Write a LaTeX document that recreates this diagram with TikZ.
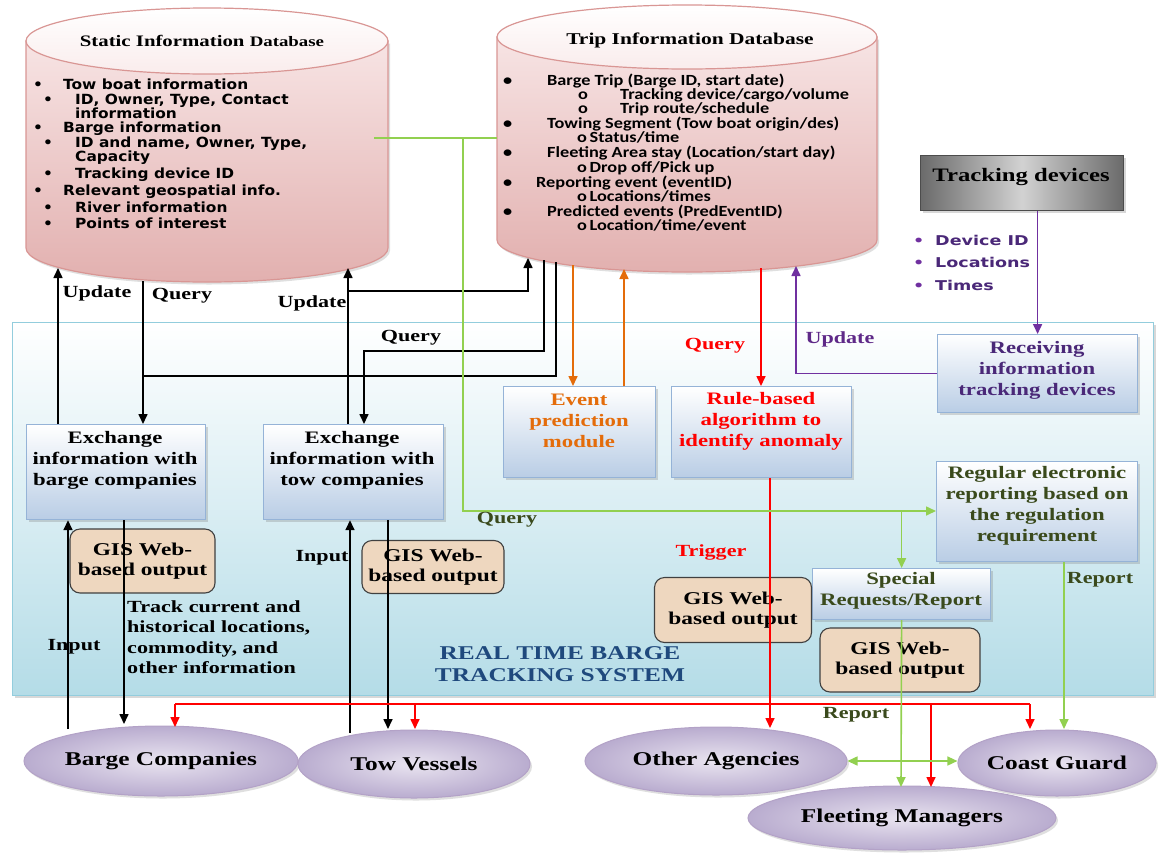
\documentclass[tikz,border=0pt]{standalone}
\usepackage{fontspec}
\setmainfont{Liberation Serif}[FakeStretch=1.3]
\newfontfamily\stfont{DejaVu Sans}[FakeStretch=1.1]
\newfontfamily\tdfont{DejaVu Sans}[FakeStretch=1.3]
\newfontfamily\trfont{Carlito}[FakeStretch=1.18]
\usetikzlibrary{arrows.meta,shapes.geometric,shadows}
\definecolor{dbtop}{HTML}{F7E4E4}
\definecolor{dbbot}{HTML}{E2B0AF}
\definecolor{dbline}{HTML}{D99694}
\definecolor{bxbot}{HTML}{B9CDE5}
\definecolor{bxline}{HTML}{95B3D7}
\definecolor{sysline}{HTML}{93CDDD}
\definecolor{sysbot}{HTML}{B4DCE7}
\definecolor{gisfill}{HTML}{EED7BF}
\definecolor{elin}{HTML}{E9E4F0}
\definecolor{elout}{HTML}{B9ACCF}
\definecolor{elline}{HTML}{B3A2C7}
\definecolor{cgreen}{HTML}{92D050}
\definecolor{corange}{HTML}{E46C0A}
\definecolor{cred}{HTML}{FF0000}
\definecolor{cpurple}{HTML}{7030A0}
\definecolor{tpurple}{HTML}{4A2878}
\definecolor{tolive}{HTML}{3A4A1C}
\definecolor{tblue}{HTML}{1F497D}
\definecolor{tdside}{HTML}{6A6A6A}
\definecolor{tdmid}{HTML}{D2D2D2}
\begin{document}
\begin{tikzpicture}[x=1pt,y=-1pt,
  every node/.style={inner sep=0pt},
  tip/.style={-{Triangle[length=10pt,width=9pt]}},
  ln/.style={line width=1.6pt},
  karr/.style={ln,tip,draw=black},
  kline/.style={ln,draw=black},
  oarr/.style={ln,tip,draw=corange},
  rarr/.style={ln,tip,draw=cred},
  rline/.style={ln,draw=cred},
  garr/.style={ln,tip,draw=cgreen},
  gline/.style={ln,draw=cgreen},
  gdarr/.style={ln,{Triangle[length=10pt,width=9pt]}-{Triangle[length=10pt,width=9pt]},draw=cgreen},
  parr/.style={ln,tip,draw=cpurple},
  bx/.style={rectangle,anchor=north west,draw=bxline,line width=1.2pt,top color=white,bottom color=bxbot,
    drop shadow={shadow xshift=2.5pt,shadow yshift=-2.5pt,opacity=.3}},
  btxt/.style={align=center,font=\fontsize{17.5}{21}\selectfont\bfseries},
  gis/.style={rectangle,rounded corners=10pt,draw=black!75,line width=1.1pt,fill=gisfill,align=center,
    font=\fontsize{18}{20}\selectfont\bfseries},
  ell/.style={ellipse,draw=elline,line width=1pt,inner color=elin,outer color=elout,
    drop shadow={shadow xshift=2pt,shadow yshift=-2.5pt,opacity=.25},font=\fontsize{19.5}{22}\selectfont\bfseries},
  lbl/.style={font=\fontsize{17}{20}\selectfont\bfseries},
  st/.style={anchor=base west,font=\stfont\fontsize{14}{15}\selectfont\bfseries},
  tr/.style={anchor=base west,font=\trfont\fontsize{15.5}{16}\selectfont\bfseries},
  td/.style={anchor=base west,font=\tdfont\fontsize{13.5}{15}\selectfont\bfseries,text=tpurple},
]
\useasboundingbox (0,0) rectangle (1162,852);
\fill[white] (0,0) rectangle (1162,852);

% ---------- real time system frame ----------
\node[rectangle,anchor=north west,draw=sysline,line width=1.2pt,top color=white,bottom color=sysbot,
  minimum width=1141,minimum height=373,drop shadow={shadow xshift=2.5pt,shadow yshift=-2.5pt,opacity=.3}] (sys) at (12,322) {};
\node[align=center,text=tblue,font=\fontsize{19.5}{22}\selectfont\bfseries] (lsys) at (560,664) {REAL TIME BARGE\\TRACKING SYSTEM};

% ---------- static information database ----------
\path[draw=dbline,line width=1.2pt,top color=dbtop,bottom color=dbbot,drop shadow={shadow xshift=2pt,shadow yshift=-2.5pt,opacity=.25}]
  (26,41) -- (26,248) arc[start angle=180,end angle=360,x radius=181pt,y radius=34pt] -- (388,41) -- cycle;
\path[draw=dbline,line width=1.2pt,top color=white,bottom color=dbtop!70] (207,41) ellipse[x radius=181pt,y radius=33pt];
\node[font=\fontsize{16}{18}\selectfont\bfseries] (sdbt) at (202,41) {Static Information {\fontsize{14.5}{16}\selectfont Database}};
\node[st] (s1) at (33,89) {\makebox[30pt][l]{\textbullet}Tow boat information};
\node[st] (s2) at (43,104) {\makebox[32pt][l]{\textbullet}ID, Owner, Type, Contact};
\node[st] (s3) at (75,118) {information};
\node[st] (s4) at (33,132) {\makebox[30pt][l]{\textbullet}Barge information};
\node[st] (s5) at (43,147) {\makebox[32pt][l]{\textbullet}ID and name, Owner, Type,};
\node[st] (s6) at (75,161) {Capacity};
\node[st] (s7) at (43,178) {\makebox[32pt][l]{\textbullet}Tracking device ID};
\node[st] (s8) at (33,195) {\makebox[30pt][l]{\textbullet}Relevant geospatial info.};
\node[st] (s9) at (43,212) {\makebox[32pt][l]{\textbullet}River information};
\node[st] (s10) at (43,228) {\makebox[32pt][l]{\textbullet}Points of interest};

% ---------- trip information database ----------
\path[draw=dbline,line width=1.2pt,top color=dbtop,bottom color=dbbot,drop shadow={shadow xshift=2pt,shadow yshift=-2.5pt,opacity=.25}]
  (497,37) -- (497,240) arc[start angle=180,end angle=360,x radius=190pt,y radius=32pt] -- (877,37) -- cycle;
\path[draw=dbline,line width=1.2pt,top color=white,bottom color=dbtop!70] (687,37) ellipse[x radius=190pt,y radius=32pt];
\node[font=\fontsize{16.5}{18}\selectfont\bfseries] (tdbt) at (690,40) {Trip Information Database};
\node[tr] (t1) at (503,85) {\makebox[44pt][l]{\textbullet}Barge Trip (Barge ID, start date)};
\node[tr] (t2) at (578,99) {\makebox[42pt][l]{o}Tracking device/cargo/volume};
\node[tr] (t3) at (578,113) {\makebox[42pt][l]{o}Trip route/schedule};
\node[tr] (t4) at (503,128) {\makebox[44pt][l]{\textbullet}Towing Segment (Tow boat origin/des)};
\node[tr] (t5) at (577,142) {o\,Status/time};
\node[tr] (t6) at (503,157) {\makebox[44pt][l]{\textbullet}Fleeting Area stay (Location/start day)};
\node[tr] (t7) at (577,172) {o\,Drop off/Pick up};
\node[tr] (t8) at (503,187) {\makebox[33pt][l]{\textbullet}Reporting event (eventID)};
\node[tr] (t9) at (577,201) {o\,Locations/times};
\node[tr] (t10) at (503,216) {\makebox[44pt][l]{\textbullet}Predicted events (PredEventID)};
\node[tr] (t11) at (577,230) {o\,Location/time/event};

% ---------- tracking devices ----------
\node[rectangle,anchor=north west,draw=black!70,line width=1pt,left color=tdside,right color=tdside,middle color=tdmid,
  minimum width=203,minimum height=55,drop shadow={shadow xshift=2.5pt,shadow yshift=-2.5pt,opacity=.3}] (td) at (920,155) {};
\node[font=\fontsize{19}{21}\selectfont\bfseries] (tdt) at (1021,177) {Tracking devices};
\node[td] (d1) at (913,245) {\makebox[22pt][l]{\textcolor{cpurple}{\textbullet}}Device ID};
\node[td] (d2) at (913,267) {\makebox[22pt][l]{\textcolor{cpurple}{\textbullet}}Locations};
\node[td] (d3) at (913,290) {\makebox[22pt][l]{\textcolor{cpurple}{\textbullet}}Times};

% ---------- boxes ----------
\node[bx,minimum width=179,minimum height=95] (xb) at (26,424) {};
\node[btxt] (xbt) at (115,460) {Exchange\\information with\\barge companies};
\node[bx,minimum width=180,minimum height=95] (xt) at (263,424) {};
\node[btxt] (xtt) at (352,460) {Exchange\\information with\\tow companies};
\node[bx,minimum width=152,minimum height=91] (ev) at (503,386) {};
\node[btxt,text=corange] (evt) at (579,421) {Event\\prediction\\module};
\node[bx,minimum width=180,minimum height=91] (rb) at (671,386) {};
\node[btxt,text=cred] (rbt) at (761,421) {Rule-based\\algorithm to\\identify anomaly};
\node[bx,minimum width=200,minimum height=78] (rc) at (937,334) {};
\node[btxt,text=tpurple] (rct) at (1037,370) {Receiving\\information\\tracking devices};
\node[bx,minimum width=201,minimum height=100] (rg) at (936,461) {};
\node[btxt,text=tolive] (rgt) at (1037,506) {Regular electronic\\reporting based on\\the regulation\\requirement};
\node[bx,minimum width=178,minimum height=51] (sp) at (812,568) {};
\node[btxt,text=tolive] (spt) at (901,591) {Special\\Requests/Report};

% ---------- GIS outputs ----------
\node[gis,minimum width=145,minimum height=64] (g1) at (142.5,561) {GIS Web-\\based output};
\node[gis,minimum width=142,minimum height=53] (g2) at (433,567) {GIS Web-\\based output};
\node[gis,minimum width=157,minimum height=65] (g3) at (733,610) {GIS Web-\\based output};
\node[gis,minimum width=160,minimum height=64] (g4) at (900,660) {GIS Web-\\based output};

% ---------- external parties ----------
\node[ell,minimum width=274,minimum height=70] (bc) at (161,761) {Barge Companies};
\node[ell,minimum width=232,minimum height=68] (tv) at (414,764) {Tow Vessels};
\node[ell,minimum width=262,minimum height=68] (oa) at (716,761) {Other Agencies};
\node[ell,minimum width=194,minimum height=66] (cg) at (1057,763) {Coast Guard};
\node[ell,minimum width=308,minimum height=64] (fm) at (902,818) {Fleeting Managers};

% ---------- attachment points ----------
\coordinate (sU1) at (58,268);
\coordinate (sQ) at (143,281);
\coordinate (sU2) at (348,268);
\coordinate (tU) at (528,258);
\coordinate (tQ1) at (544,260);
\coordinate (tQ2) at (556,262);
\coordinate (tO1) at (573,265);
\coordinate (tO2) at (624,269);
\coordinate (tR) at (761,268);
\coordinate (tP) at (796,266);
\coordinate (sG) at (374,138);
\coordinate (tG) at (497,138);
\coordinate (gJ) at (463,138);
\coordinate (gQ) at (463,511);
\coordinate (j1) at (348,291);
\coordinate (jq1) at (143,376);
\coordinate (jq2) at (364,351);
\coordinate (rL) at (175,704);
\coordinate (rR) at (1030,704);
\coordinate (bcIn) at (68,729);
\coordinate (bcOut) at (124,724);
\coordinate (tvIn) at (350,733);
\coordinate (tvOut) at (388,729);
\coordinate (bcR) at (175,727);
\coordinate (tvR) at (415,729);
\coordinate (oaR) at (770,728);
\coordinate (cgR) at (1030,729);
\coordinate (cgG) at (1064,729);
\coordinate (fmR) at (931,787);
\coordinate (fmG) at (901,787);

% ---------- black connectors ----------
\draw[karr] (xb.north -| sU1) -- (sU1);
\draw[karr] (sQ) -- (xb.north -| sQ);
\draw[karr] (xt.north -| sU2) -- (sU2);
\draw[karr] (j1) -| (tU);
\draw[karr] (tQ1) |- (jq2) -- (xt.north -| jq2);
\draw[kline] (tQ2) |- (jq1);
\draw[karr] (bcIn) -- (xb.south -| bcIn);
\draw[karr] (xb.south -| bcOut) -- (bcOut);
\draw[karr] (tvIn) -- (xt.south -| tvIn);
\draw[karr] (xt.south -| tvOut) -- (tvOut);

% ---------- orange ----------
\draw[oarr] (tO1) -- (ev.north -| tO1);
\draw[oarr] (ev.north -| tO2) -- (tO2);

% ---------- red ----------
\draw[rarr] (tR) -- (rb.north -| tR);
\draw[rarr] (rb.south -| oaR) -- (oaR);
\draw[rline] (rL) -- (rR);
\draw[rarr] (rL) -- (bcR);
\draw[rarr] (rL -| tvR) -- (tvR);
\draw[rarr] (rR) -- (cgR);
\draw[rarr] (rL -| fmR) -- (fmR);

% ---------- green ----------
\draw[gline] (sG) -- (tG);
\draw[garr] (gJ) -- (gQ) -- (rg.west |- gQ);
\draw[garr] (sp.north |- gQ) -- (sp.north);
\draw[garr] (sp.south) -- (fmG);
\draw[garr] (rg.south -| cgG) -- (cgG);
\draw[gdarr] (oa.east) -- (cg.west |- oa.east);

% ---------- purple ----------
\draw[parr] (td.south -| rc.north) -- (rc.north);
\draw[parr] (rc.west) -| (tP);

% ---------- labels ----------
\node[lbl] (lu1) at (97,293) {Update};
\node[lbl] (lq1) at (182,296) {Query};
\node[lbl] (lu2) at (312,303) {Update};
\node[lbl] (lq2) at (411,338) {Query};
\node[lbl,text=cred] (lq3) at (715,346) {Query};
\node[lbl,text=cpurple!85!black] (lu3) at (840,339) {Update};
\node[lbl,text=tolive] (lq4) at (507,520) {Query};
\node[lbl,text=cred] (ltr) at (711,552) {Trigger};
\node[lbl,text=tolive] (lr1) at (1100,580) {Report};
\node[lbl,text=tolive] (lr2) at (856,715) {Report};
\node[lbl] (li1) at (74,647) {Input};
\node[lbl] (li2) at (322,558) {Input};
\node[lbl,align=left,anchor=west,font=\fontsize{17}{20.5}\selectfont\bfseries] (ltrack) at (127,637)
  {Track current and\\historical locations,\\commodity, and\\other information};
\end{tikzpicture}
\end{document}
